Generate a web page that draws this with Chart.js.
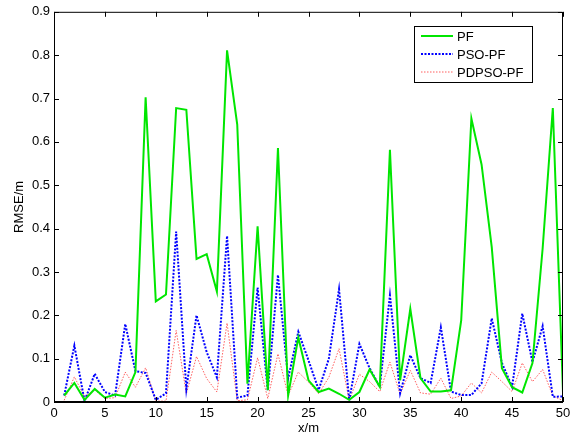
<!DOCTYPE html>
<html>
<head>
<meta charset="utf-8">
<script src="https://cdn.jsdelivr.net/npm/chart.js@4.4.0/dist/chart.umd.min.js"></script>
<style>
  html, body { margin: 0; padding: 0; background: #fff; }
  #wrap { width: 581px; height: 439px; }
</style>
</head>
<body>
<div id="wrap"><canvas id="myChart" width="581" height="439"></canvas></div>
<script>
// positions along x (m)
var positions = [1, 2, 3, 4, 5, 6, 7, 8, 9, 10,
    11, 12, 13, 14, 15, 16, 17, 18, 19, 20,
    21, 22, 23, 24, 25, 26, 27, 28, 29, 30,
    31, 32, 33, 34, 35, 36, 37, 38, 39, 40,
    41, 42, 43, 44, 45, 46, 47, 48, 49, 50];

var pf = [0.015, 0.044, 0.005, 0.030, 0.010, 0.017, 0.013, 0.069, 0.703, 0.232,
    0.248, 0.678, 0.674, 0.330, 0.341, 0.255, 0.811, 0.640, 0.042, 0.405,
    0.027, 0.586, 0.015, 0.149, 0.050, 0.023, 0.031, 0.019, 0.005, 0.023,
    0.075, 0.035, 0.582, 0.050, 0.215, 0.055, 0.024, 0.024, 0.027, 0.188,
    0.654, 0.548, 0.357, 0.078, 0.034, 0.022, 0.090, 0.354, 0.678, 0.022];

var psoPf = [0.015, 0.130, 0.002, 0.065, 0.023, 0.015, 0.180, 0.071, 0.067, 0.005,
    0.020, 0.393, 0.030, 0.200, 0.115, 0.057, 0.383, 0.010, 0.015, 0.264,
    0.027, 0.293, 0.054, 0.162, 0.096, 0.028, 0.100, 0.260, 0.004, 0.134,
    0.078, 0.035, 0.246, 0.020, 0.108, 0.055, 0.044, 0.172, 0.024, 0.016,
    0.016, 0.043, 0.193, 0.090, 0.035, 0.204, 0.092, 0.175, 0.012, 0.013];

var pdpsoPf = [0.004, 0.058, 0.012, 0.028, 0.008, 0.010, 0.069, 0.034, 0.079, 0.002,
    0.002, 0.165, 0.019, 0.105, 0.054, 0.023, 0.182, 0.003, 0.005, 0.102,
    0.008, 0.111, 0.015, 0.069, 0.046, 0.019, 0.057, 0.123, 0.004, 0.064,
    0.047, 0.024, 0.092, 0.018, 0.073, 0.021, 0.018, 0.055, 0.008, 0.014,
    0.044, 0.021, 0.069, 0.047, 0.024, 0.090, 0.047, 0.075, 0.014, 0.003];

var seriesNames = ['PF', 'PSO-PF', 'PDPSO-PF'];
var xTicks = [0, 5, 10, 15, 20, 25, 30, 35, 40, 45, 50];
var yTicks = [0, 0.1, 0.2, 0.3, 0.4, 0.5, 0.6, 0.7, 0.8, 0.9];

function pts(vals) {
    return positions.map(function (p, i) { return { x: p, y: vals[i] }; });
}

var FONT = 'Liberation Sans, Arial, Helvetica, sans-serif';

// matlab style box with inward ticks + legend
var boxPlugin = {
    id: 'boxPlugin',
    afterDatasetsDraw: function (chart) {
        var ctx = chart.ctx;
        var a = chart.chartArea;
        var xs = chart.scales.x, ys = chart.scales.y;
        var tl = 5;
        ctx.save();
        ctx.strokeStyle = '#000';
        ctx.lineWidth = 1;
        ctx.beginPath();
        ctx.moveTo(a.left + 0.5, a.bottom);
        ctx.lineTo(a.left + 0.5, a.top + 0.5);
        ctx.lineTo(a.right - 0.5, a.top + 0.5);
        ctx.lineTo(a.right - 0.5, a.bottom);
        ctx.stroke();
        ctx.lineWidth = 2;
        ctx.beginPath();
        ctx.moveTo(a.left, a.bottom);
        ctx.lineTo(a.right, a.bottom);
        ctx.stroke();
        ctx.lineWidth = 1;
        ctx.beginPath();
        xTicks.forEach(function (v) {
            var px = Math.round(xs.getPixelForValue(v)) + 0.5;
            ctx.moveTo(px, a.bottom);
            ctx.lineTo(px, a.bottom - tl);
            ctx.moveTo(px, a.top);
            ctx.lineTo(px, a.top + tl);
        });
        yTicks.forEach(function (v) {
            var py = Math.round(ys.getPixelForValue(v)) + 0.5;
            ctx.moveTo(a.left, py);
            ctx.lineTo(a.left + tl, py);
            ctx.moveTo(a.right, py);
            ctx.lineTo(a.right - tl, py);
        });
        ctx.stroke();

        // legend
        var lx = 414, ly = 26, lw = 118, lh = 56;
        ctx.fillStyle = '#fff';
        ctx.fillRect(lx, ly, lw, lh);
        ctx.strokeStyle = '#000';
        ctx.lineWidth = 1;
        ctx.strokeRect(lx + 0.5, ly + 0.5, lw, lh);
        ctx.font = '13px ' + FONT;
        ctx.textBaseline = 'middle';
        chart.data.datasets.forEach(function (ds, i) {
            var y = 36 + i * 18;
            ctx.save();
            ctx.strokeStyle = ds.borderColor;
            ctx.lineWidth = ds.borderWidth;
            ctx.setLineDash(ds.borderDash || []);
            ctx.beginPath();
            ctx.moveTo(421, y);
            ctx.lineTo(453, y);
            ctx.stroke();
            ctx.restore();
            ctx.fillStyle = '#000';
            ctx.fillText(ds.label, 457, y + 1);
        });
        ctx.restore();
    }
};

var ctx = document.getElementById('myChart').getContext('2d');
var chart = new Chart(ctx, {
    type: 'line',
    data: {
        datasets: [{
            label: seriesNames[0],
            data: pts(pf),
            borderColor: '#00e600',
            borderWidth: 2,
            pointRadius: 0,
            tension: 0
        }, {
            label: seriesNames[1],
            data: pts(psoPf),
            borderColor: '#0000ff',
            borderWidth: 2,
            borderDash: [2, 1.5],
            pointRadius: 0,
            tension: 0
        }, {
            label: seriesNames[2],
            data: pts(pdpsoPf),
            borderColor: 'rgba(255, 40, 40, 0.75)',
            borderWidth: 1,
            borderDash: [1.5, 1.5],
            pointRadius: 0,
            tension: 0
        }]
    },
    plugins: [boxPlugin],
    options: {
        responsive: false,
        animation: false,
        layout: { padding: { left: 0, top: 10, right: 18, bottom: 0 } },
        plugins: {
            legend: { display: false },
            tooltip: { enabled: false }
        },
        scales: {
            x: {
                type: 'linear',
                min: 0,
                max: 50,
                afterBuildTicks: function (s) { s.ticks = xTicks.map(function (v) { return { value: v }; }); },
                afterFit: function (s) { s.height = 37; },
                grid: { display: false, drawTicks: false },
                border: { display: false },
                ticks: { color: '#000', padding: 4, maxRotation: 0, font: { family: FONT, size: 13 } },
                title: { display: true, text: 'x/m', color: '#000', padding: { top: 0, bottom: 3 }, font: { family: FONT, size: 13 } }
            },
            y: {
                min: 0,
                max: 0.9,
                afterBuildTicks: function (s) { s.ticks = yTicks.map(function (v) { return { value: v }; }); },
                afterFit: function (s) { s.width = 54; },
                grid: { display: false, drawTicks: false },
                border: { display: false },
                ticks: { color: '#000', padding: 4, font: { family: FONT, size: 13 } },
                title: { display: true, text: 'RMSE/m', color: '#000', padding: { top: 12, bottom: 0 }, font: { family: FONT, size: 13 } }
            }
        }
    }
});
</script>
</body>
</html>
